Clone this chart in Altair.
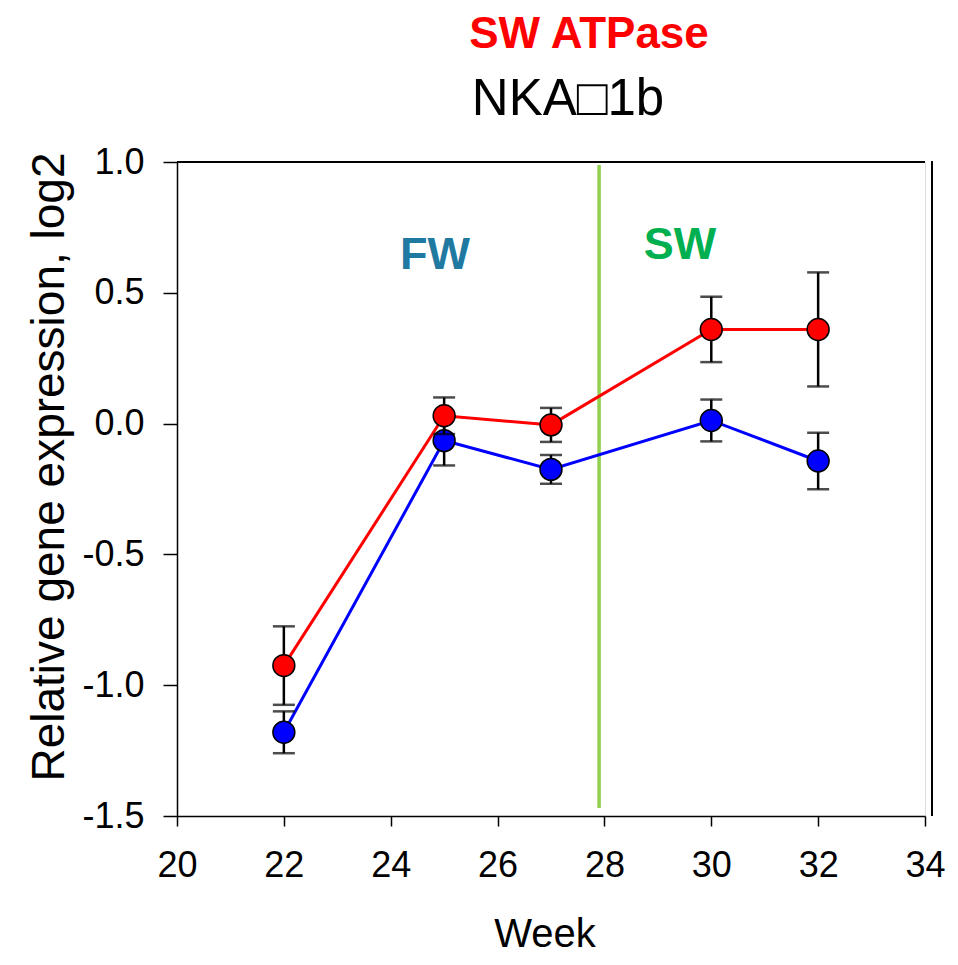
import altair as alt
import pandas as pd

weeks = [22, 25, 27, 30, 32]
red_mean = [-0.925, 0.03, -0.005, 0.36, 0.36]
red_err = [0.15, 0.07, 0.065, 0.125, 0.218]
blue_mean = [-1.18, -0.065, -0.175, 0.012, -0.143]
blue_err = [0.08, 0.095, 0.055, 0.08, 0.108]
series_names = ["red", "blue"]
series_colors = ["#FF0000", "#0000FF"]
x_ticks = [20, 22, 24, 26, 28, 30, 32, 34]
y_ticks = [-1.5, -1.0, -0.5, 0.0, 0.5, 1.0]
transfer_week = 27.9

FONT = "Liberation Sans"
W, H = 748, 654

rows = []
for name, means, errs in [("red", red_mean, red_err), ("blue", blue_mean, blue_err)]:
    for w, m, e in zip(weeks, means, errs):
        rows.append({"series": name, "week": w, "mean": m, "lo": m - e, "hi": m + e})
df = pd.DataFrame(rows)

xscale = alt.Scale(domain=[20, 34], nice=False, zero=False)
yscale = alt.Scale(domain=[-1.5, 1.0], nice=False, zero=False)
cscale = alt.Scale(domain=series_names, range=series_colors)

X = alt.X("week:Q", scale=xscale,
          axis=alt.Axis(values=x_ticks, title=None, grid=False, domainColor="black",
                        domainWidth=1.5, tickColor="black", tickWidth=1.5, tickSize=10,
                        labelFontSize=36, labelFont=FONT, labelColor="black",
                        labelPadding=22, labelFlush=False))
Y = alt.Y("mean:Q", scale=yscale,
          axis=alt.Axis(values=y_ticks, title=None, grid=False, domainColor="black",
                        domainWidth=1.5, tickColor="black", tickWidth=1.5, tickSize=14,
                        labelFontSize=36, labelFont=FONT, labelColor="black",
                        labelPadding=19, labelFlush=False,
                        labelExpr="datum.value < 0 ? '-' + format(abs(datum.value), '.1f') : format(datum.value, '.1f')"))

base = alt.Chart(df)

lines = base.mark_line(strokeWidth=3).encode(
    x=X, y=Y,
    color=alt.Color("series:N", scale=cscale, legend=None),
    detail="series:N",
)


def series_layers(name):
    d = base.transform_filter(alt.datum.series == name)
    err = d.mark_rule(color="black", strokeWidth=2.5).encode(
        x=alt.X("week:Q", scale=xscale), y=alt.Y("lo:Q", scale=yscale), y2="hi:Q")
    cap_lo = d.mark_tick(orient="horizontal", color="black", size=22, thickness=2.5).encode(
        x=alt.X("week:Q", scale=xscale), y=alt.Y("lo:Q", scale=yscale))
    cap_hi = d.mark_tick(orient="horizontal", color="black", size=22, thickness=2.5).encode(
        x=alt.X("week:Q", scale=xscale), y=alt.Y("hi:Q", scale=yscale))
    pts = d.mark_point(filled=True, shape="circle", size=480, stroke="black",
                       strokeWidth=1.5, opacity=1).encode(
        x=alt.X("week:Q", scale=xscale), y=alt.Y("mean:Q", scale=yscale),
        fill=alt.Color("series:N", scale=cscale, legend=None))
    return [err, cap_lo, cap_hi, pts]


vline = alt.Chart(pd.DataFrame({"w": [transfer_week]})).mark_rule(
    color="#92D050", strokeWidth=3.5).encode(
    x=alt.X("w:Q", scale=xscale), y=alt.value(3), y2=alt.value(646))

frame_df = pd.DataFrame({"k": [0]})
top_line = alt.Chart(frame_df).mark_rule(color="black", strokeWidth=2).encode(
    x=alt.value(0), x2=alt.value(W), y=alt.value(0))
right_line = alt.Chart(frame_df).mark_rule(color="black", strokeWidth=2).encode(
    x=alt.value(W + 7), y=alt.value(-1), y2=alt.value(H))


def label(text, x, y, size, color="black", weight="normal", angle=0, baseline="middle"):
    return alt.Chart(pd.DataFrame({"t": [text]})).mark_text(
        font=FONT, fontSize=size, color=color, fontWeight=weight, angle=angle,
        align="center", baseline=baseline).encode(
        text="t:N", x=alt.value(x), y=alt.value(y))


texts = [
    label("SW ATPase", 412, -127, 44, "#FF0000", "bold"),
    label("NKA□1b", 391, -62, 51),
    label("FW", 258, 93, 45, "#2079A1", "bold"),
    label("SW", 503, 83, 45, "#00B050", "bold"),
    label("Relative gene expression, log2", -127, 305, 46, angle=270),
    label("Week", 368, 785, 40, baseline="alphabetic"),
]

chart = alt.layer(
    vline, lines, *series_layers("blue"), *series_layers("red"),
    top_line, right_line, *texts
).properties(
    width=W, height=H,
    autosize=alt.AutoSizeParams(type="none"),
    padding={"left": 169, "top": 154, "right": 25, "bottom": 141},
).configure_view(stroke=None).configure(background="white")

chart.save("out.html", embed_options={"renderer": "svg", "actions": False})
